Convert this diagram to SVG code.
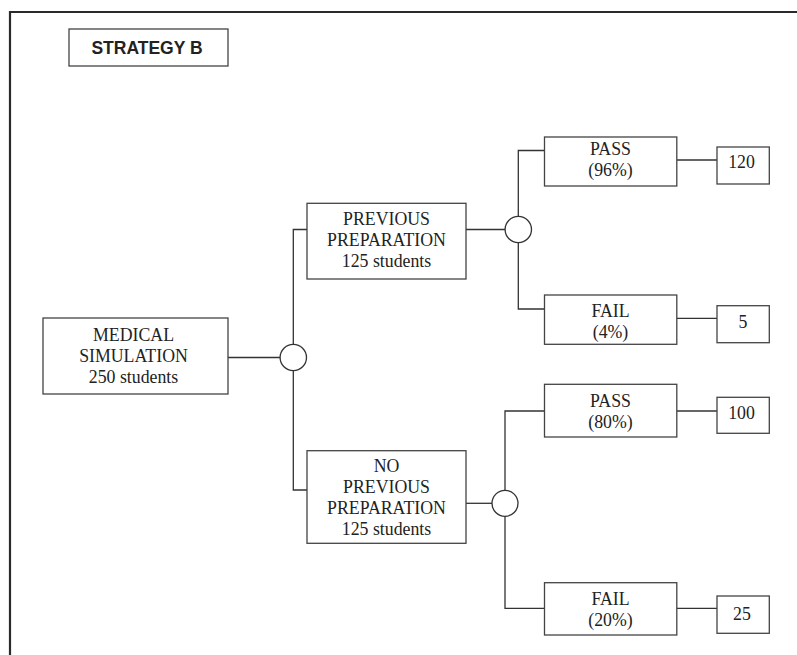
<svg xmlns="http://www.w3.org/2000/svg" width="797" height="655" viewBox="0 0 797 655">
<style>
.box{fill:#fff;stroke:#444;stroke-width:1.3}
.chance{fill:#fff;stroke:#333;stroke-width:1.3}
.t{font-family:"Liberation Serif","Times New Roman",serif;font-size:17.8px;fill:#222;text-anchor:middle}
.title{font-family:"Liberation Sans",Arial,sans-serif;font-size:17.5px;font-weight:bold;fill:#222;text-anchor:middle}
.conn{fill:none;stroke:#333;stroke-width:1.3}
</style>
<rect width="797" height="655" fill="#fff"/>
<path d="M10,655 V12 H797" fill="none" stroke="#2a2a2a" stroke-width="2.2"/>
<g id="title">
<rect class="box" x="69" y="29" width="159" height="37"/>
<text class="title" x="147" y="54">STRATEGY B</text>
</g>
<g id="connectors">
<path class="conn" d="M228,357.5 H280"/>
<path class="conn" d="M307,229.5 H293.3 V344.3 M293.3,370.7 V490 H307"/>
<path class="conn" d="M466,229.5 H505"/>
<path class="conn" d="M544.5,150.5 H518.3 V216.2 M518.3,242.8 V309 H544.5"/>
<path class="conn" d="M466,503.3 H492"/>
<path class="conn" d="M544.5,411 H505 V490.3 M505,516.3 V608.3 H544.5"/>
<path class="conn" d="M677,160 H717"/>
<path class="conn" d="M677,318.3 H717"/>
<path class="conn" d="M677,411 H717"/>
<path class="conn" d="M677,608.3 H717"/>
</g>
<g id="medical">
<rect class="box" x="43" y="318" width="185" height="76"/>
<text class="t" x="133.5" y="340.7">MEDICAL</text>
<text class="t" x="133.5" y="361.7">SIMULATION</text>
<text class="t" x="133.5" y="382.7">250 students</text>
</g>
<g id="chance1"><circle class="chance" cx="293.3" cy="357.5" r="13.2"/></g>
<g id="prev">
<rect class="box" x="307" y="203.3" width="159" height="75.7"/>
<text class="t" x="386.5" y="225">PREVIOUS</text>
<text class="t" x="386.5" y="246">PREPARATION</text>
<text class="t" x="386.5" y="267">125 students</text>
</g>
<g id="noprev">
<rect class="box" x="307" y="450.7" width="159" height="92.6"/>
<text class="t" x="386.5" y="471.7">NO</text>
<text class="t" x="386.5" y="493">PREVIOUS</text>
<text class="t" x="386.5" y="514.3">PREPARATION</text>
<text class="t" x="386.5" y="535.3">125 students</text>
</g>
<g id="chance2"><circle class="chance" cx="518.3" cy="229.5" r="13.2"/></g>
<g id="chance3"><circle class="chance" cx="505" cy="503.3" r="13"/></g>
<g id="pass96">
<rect class="box" x="544.5" y="137" width="132.3" height="49"/>
<text class="t" x="610.5" y="155">PASS</text>
<text class="t" x="610.5" y="176">(96%)</text>
</g>
<g id="fail4">
<rect class="box" x="544.5" y="295" width="132.3" height="49.3"/>
<text class="t" x="610.5" y="316.7">FAIL</text>
<text class="t" x="610.5" y="337.7">(4%)</text>
</g>
<g id="pass80">
<rect class="box" x="544.5" y="384.3" width="132.3" height="52.7"/>
<text class="t" x="610.5" y="406.7">PASS</text>
<text class="t" x="610.5" y="427.7">(80%)</text>
</g>
<g id="fail20">
<rect class="box" x="544.5" y="582.7" width="132.3" height="52.3"/>
<text class="t" x="610.5" y="605">FAIL</text>
<text class="t" x="610.5" y="626">(20%)</text>
</g>
<g id="r120">
<rect class="box" x="717" y="147" width="52.3" height="37"/>
<text class="t" x="741.5" y="168.3">120</text>
</g>
<g id="r5">
<rect class="box" x="717" y="305.7" width="52.3" height="37"/>
<text class="t" x="743" y="328.3">5</text>
</g>
<g id="r100">
<rect class="box" x="717" y="397.3" width="52.3" height="36"/>
<text class="t" x="741.5" y="419.3">100</text>
</g>
<g id="r25">
<rect class="box" x="717" y="596" width="52.3" height="37.3"/>
<text class="t" x="742" y="620">25</text>
</g>
</svg>
